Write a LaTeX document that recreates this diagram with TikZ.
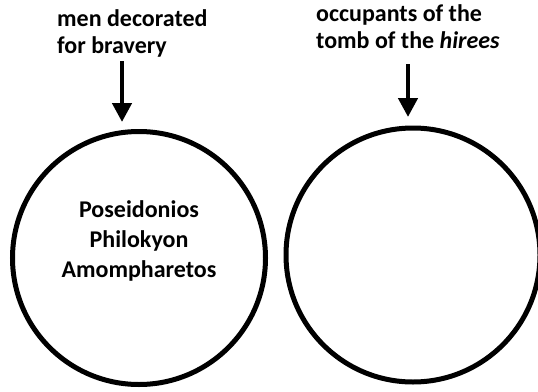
\documentclass[tikz,border=0pt]{standalone}
\usepackage{fontspec}
\setmainfont{Carlito}
\usetikzlibrary{arrows.meta}
\tikzset{
  ring/.style={draw=black, line width=5pt},
  lbl/.style={font=\bfseries\fontsize{24}{27}\selectfont, inner sep=0pt, align=left, anchor=base west},
  inner/.style={font=\bfseries\fontsize{24}{30}\selectfont, inner sep=0pt, align=center, anchor=base},
  pointer/.style={line width=4.5pt, -{Triangle[width=19pt,length=19pt]}}
}
\begin{document}
\begin{tikzpicture}[x=1pt,y=-1pt]
\useasboundingbox (0,0) rectangle (538,391);
\draw[ring] (139,258) circle[radius=126.5];
\draw[ring] (413,255) circle[radius=127];
\node[lbl] (l1) at (57,53) {men decorated\\for bravery};
\node[lbl] (l2) at (316,48) {occupants of the\\tomb of the \textit{hirees}};
\node[inner] (names) at (139,277) {Poseidonios\\Philokyon\\Amompharetos};
\coordinate (a1s) at (122,61);
\coordinate (a1e) at (122,122);
\coordinate (a2s) at (408,64);
\coordinate (a2e) at (408,117);
\draw[pointer] (a1s) -- (a1e);
\draw[pointer] (a2s) -- (a2e);
\end{tikzpicture}
\end{document}
